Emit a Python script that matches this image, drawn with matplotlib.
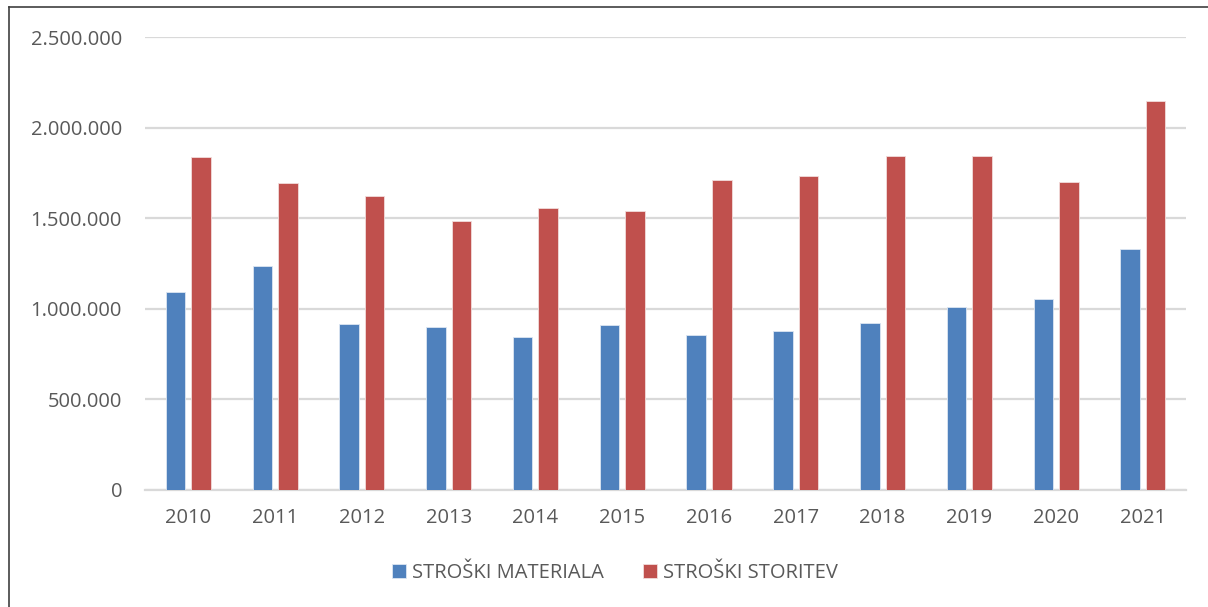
import numpy as np
import matplotlib
matplotlib.use("Agg")
import matplotlib.pyplot as plt
from matplotlib.ticker import FuncFormatter
from matplotlib.lines import Line2D

plt.rcParams['font.family'] = ['Open Sans', 'DejaVu Sans']

years = ['2010', '2011', '2012', '2013', '2014', '2015',
         '2016', '2017', '2018', '2019', '2020', '2021']
materiala = [1092000, 1235000, 915000, 898000, 845000, 909000,
             854000, 876000, 920000, 1011000, 1051000, 1331000]
storitev = [1837000, 1695000, 1625000, 1485000, 1557000, 1539000,
            1710000, 1734000, 1843000, 1843000, 1702000, 2148000]

blue = '#4F81BD'
red = '#C0504D'
txt = '#595959'
grid = '#D9D9D9'

fig = plt.figure(figsize=(12.08, 6.07), dpi=100)
ax = fig.add_axes([0.120, 0.193, 0.862, 0.746])

x = np.arange(len(years))
w = 0.225
ax.bar(x - 0.147, materiala, w, color=blue, edgecolor='#DCE6F2', linewidth=0.6,
       label='STROŠKI MATERIALA', zorder=3)
ax.bar(x + 0.147, storitev, w, color=red, edgecolor='#F2DCDB', linewidth=0.6,
       label='STROŠKI STORITEV', zorder=3)

ax.set_xlim(-0.5, len(years) - 0.5)
ax.set_ylim(0, 2500000)
ax.set_yticks(np.arange(0, 2500001, 500000))
ax.yaxis.set_major_formatter(FuncFormatter(lambda v, p: f"{int(v):,}".replace(",", ".")))
ax.set_xticks(x)
ax.set_xticklabels(years)
ax.tick_params(axis='both', length=0, labelsize=14.5, colors=txt)
ax.tick_params(axis='x', pad=13)
ax.tick_params(axis='y', pad=16.5)
ax.grid(axis='y', color=grid, linewidth=1.6, zorder=0)
for s in ['top', 'right', 'left']:
    ax.spines[s].set_visible(False)
ax.spines['bottom'].set_color(grid)
ax.spines['bottom'].set_linewidth(1.6)

leg = fig.legend(loc='center', bbox_to_anchor=(0.509, 0.056), ncol=2, frameon=False,
                 fontsize=14.5, handlelength=0.7, handleheight=0.7, handletextpad=0.3,
                 columnspacing=1.9)
for t in leg.get_texts():
    t.set_color(txt)

# chart frame (partially cropped)
fig.add_artist(Line2D([0.0075, 1.0], [1 - 7.3 / 607] * 2, transform=fig.transFigure,
                      color='#404040', linewidth=1.2))
fig.add_artist(Line2D([9.3 / 1208] * 2, [0.0, 1 - 7.3 / 607], transform=fig.transFigure,
                      color='#404040', linewidth=1.2))

fig.savefig('out.png', dpi=100)
